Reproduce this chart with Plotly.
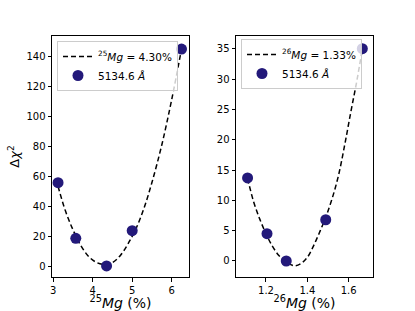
import plotly.graph_objects as go

# Data points
mg25_x = [3.12, 3.57, 4.35, 5.00, 6.25]
mg25_chi = [55.9, 18.9, 0.5, 24.0, 144.8]
mg26_x = [1.111, 1.205, 1.298, 1.489, 1.666]
mg26_chi = [13.7, 4.5, 0.0, 6.8, 35.0]

# Dashed fit curves
fit25_x = [3.12, 3.30, 3.50, 3.70, 3.90, 4.10, 4.30, 4.50, 4.70, 4.90,
           5.10, 5.30, 5.50, 5.75, 6.00, 6.25]
fit25_chi = [53.5, 37.7, 24.5, 14.0, 6.7, 2.8, 1.5, 2.8, 7.5, 15.5,
             25.5, 39.0, 56.0, 81.0, 111.0, 144.8]
fit26_x = [1.111, 1.14, 1.17, 1.20, 1.23, 1.26, 1.29, 1.32, 1.34, 1.37,
           1.40, 1.43, 1.46, 1.49, 1.52, 1.55, 1.58, 1.61, 1.64, 1.666]
fit26_chi = [13.6, 9.8, 6.9, 4.5, 2.5, 1.0, 0.0, -0.6, -0.8, -0.4,
             0.6, 2.5, 4.8, 7.3, 10.3, 14.0, 19.0, 24.5, 29.8, 35.0]

label25 = "<sup>25</sup><i>Mg</i> = 4.30%"
label26 = "<sup>26</sup><i>Mg</i> = 1.33%"
line_label = "5134.6 <i>Å</i>"

x_ticks_left = [3, 4, 5, 6]
y_ticks_left = [0, 20, 40, 60, 80, 100, 120, 140]
x_ticks_right = [1.2, 1.4, 1.6]
y_ticks_right = [0, 5, 10, 15, 20, 25, 30, 35]

marker_color = "#23197a"
dash_style = "5px,3px"

fig = go.Figure()

fig.add_trace(go.Scatter(x=fit25_x, y=fit25_chi, mode="lines", name=label25,
                         line=dict(color="black", dash=dash_style, width=1.5, shape="spline"),
                         xaxis="x", yaxis="y", legend="legend"))
fig.add_trace(go.Scatter(x=mg25_x, y=mg25_chi, mode="markers", name=line_label,
                         marker=dict(color=marker_color, size=11),
                         xaxis="x", yaxis="y", legend="legend"))
fig.add_trace(go.Scatter(x=fit26_x, y=fit26_chi, mode="lines", name=label26,
                         line=dict(color="black", dash=dash_style, width=1.5, shape="spline"),
                         xaxis="x2", yaxis="y2", legend="legend2"))
fig.add_trace(go.Scatter(x=mg26_x, y=mg26_chi, mode="markers", name=line_label,
                         marker=dict(color=marker_color, size=11),
                         xaxis="x2", yaxis="y2", legend="legend2"))

W, H = 415, 311
axis_common = dict(showline=True, linecolor="black", linewidth=1, mirror=True,
                   ticks="outside", ticklen=3.5, tickcolor="black", showgrid=False,
                   zeroline=False, automargin=False,
                   tickfont=dict(size=10, color="black"))

ydom = [1 - 277 / H, 1 - 36 / H]
legend_common = dict(xanchor="left", yanchor="top",
                     bgcolor="rgba(255,255,255,0.8)", bordercolor="#cccccc",
                     borderwidth=1, font=dict(size=10.5), tracegroupgap=0,
                     itemwidth=30)
fig.update_layout(
    width=W, height=H,
    margin=dict(l=0, r=0, t=0, b=0),
    paper_bgcolor="white", plot_bgcolor="white",
    font=dict(family="DejaVu Sans", color="black"),
    xaxis=dict(domain=[52 / W, 189 / W], range=[2.967, 6.44], tickvals=x_ticks_left,
               title=dict(text="<sup>25</sup><i>Mg</i> (%)", font=dict(size=14), standoff=3),
               anchor="y", **axis_common),
    yaxis=dict(domain=ydom, range=[-6.85, 153.5], tickvals=y_ticks_left,
               title=dict(text="Δ<i>χ</i><sup>2</sup>", font=dict(size=13), standoff=3),
               anchor="x", **axis_common),
    xaxis2=dict(domain=[236 / W, 373 / W], range=[1.055, 1.7176], tickvals=x_ticks_right,
                ticktext=["1.2", "1.4", "1.6"],
                title=dict(text="<sup>26</sup><i>Mg</i> (%)", font=dict(size=14), standoff=3),
                anchor="y2", **axis_common),
    yaxis2=dict(domain=ydom, range=[-2.64, 37.09], tickvals=y_ticks_right,
                anchor="x2", **axis_common),
    legend=dict(x=57 / W, y=1 - 41 / H, **legend_common),
    legend2=dict(x=241 / W, y=1 - 39 / H, **legend_common),
    showlegend=True,
)

fig.write_html("out.html",
               config={"displayModeBar": False},
               post_script="document.body.style.margin='0';document.body.style.overflow='hidden';")
